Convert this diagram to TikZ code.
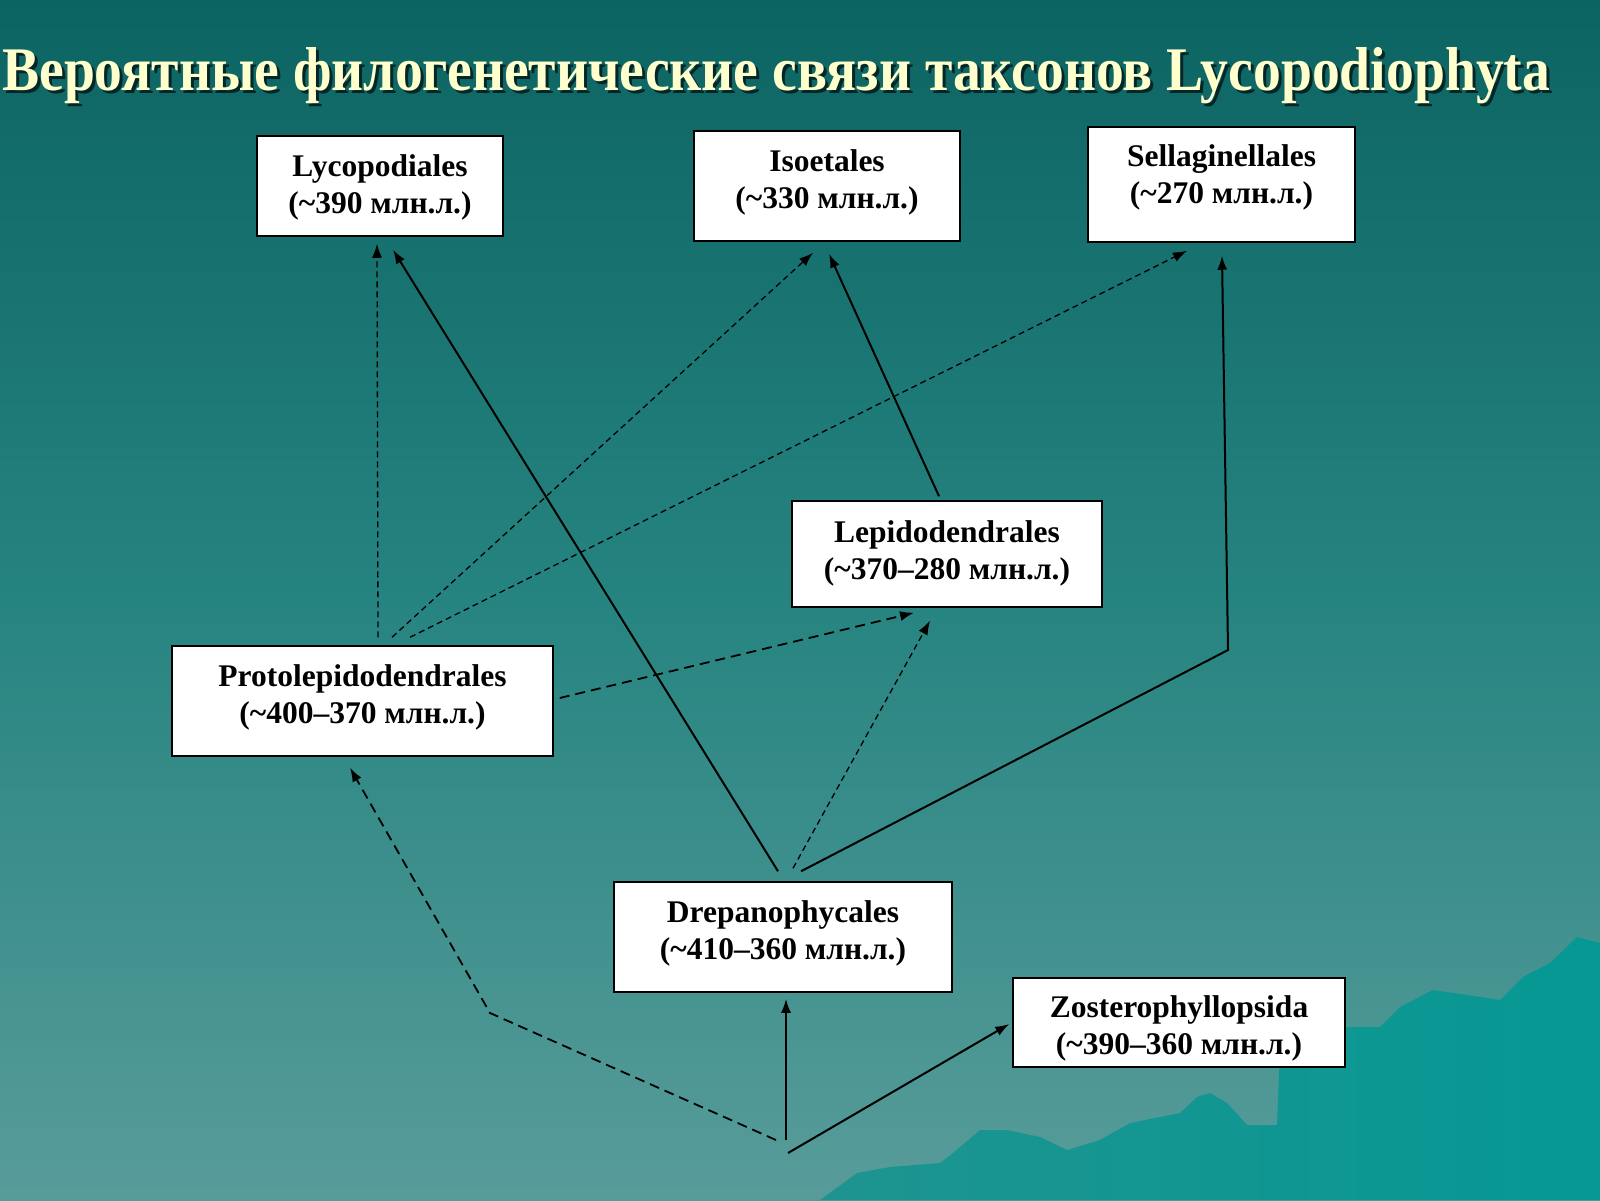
\documentclass[tikz,border=0pt]{standalone}
\usepackage{fontspec}
\usepackage{graphicx}
\setmainfont{Liberation Serif}
\usetikzlibrary{arrows.meta,calc}
\definecolor{bgtop}{RGB}{12,100,98}
\definecolor{bgmid}{RGB}{38,132,128}
\definecolor{bgbot}{RGB}{88,156,154}
\definecolor{mountl}{RGB}{30,148,144}
\definecolor{mountr}{RGB}{6,152,148}
\definecolor{titlecol}{RGB}{255,255,205}
\definecolor{shadowcol}{RGB}{5,38,38}
\newcommand\mytitletext{\resizebox{1548pt}{\height}{\fontsize{62}{62}\selectfont\bfseries Вероятные филогенетические связи таксонов Lycopodiophyta}}
\begin{document}
\begin{tikzpicture}[x=1pt,y=-1pt,
  box/.style={draw=black, line width=1.5pt, fill=white, inner sep=0pt},
  boxtext/.style={font=\fontsize{31.5}{37}\selectfont\bfseries, align=center, inner sep=0pt, text=black},
  solidarrow/.style={line width=2pt, -{Latex[length=14pt,width=10pt]}},
  dashthin/.style={line width=1.3pt, dash pattern=on 6pt off 4pt, -{Latex[length=14pt,width=10pt]}},
  dashthick/.style={line width=1.8pt, dash pattern=on 10pt off 6pt, -{Latex[length=14pt,width=10pt]}},
]
% background
\path[use as bounding box, top color=bgtop, bottom color=bgbot, middle color=bgmid] (0,0) rectangle (1600,1200);
% mountains
\path[left color=mountl, right color=mountr]
  (820,1200) -- (827,1195) -- (857,1173) -- (890,1167) -- (940,1163) -- (953,1153) -- (980,1130)
  -- (1007,1130) -- (1040,1137) -- (1067,1150) -- (1100,1140) -- (1130,1123) -- (1180,1113)
  -- (1197,1097) -- (1210,1093) -- (1227,1103) -- (1247,1125) -- (1277,1125) -- (1280,1050)
  -- (1347,1027) -- (1380,1027) -- (1400,1007) -- (1433,990) -- (1467,995) -- (1500,1000)
  -- (1523,977) -- (1550,963) -- (1577,937) -- (1600,943) -- (1600,1200) -- cycle;
% title
\node[anchor=base west, inner sep=0pt, text=shadowcol] at (5,93) {\mytitletext};
\node[anchor=base west, inner sep=0pt, text=titlecol] (title) at (2,90) {\mytitletext};
% boxes
\node[box, minimum width=246pt, minimum height=100pt] (lyc) at (380,186) {};
\node[boxtext] at (380,187) {Lycopodiales\\(\textasciitilde390 млн.л.)};
\node[box, minimum width=266pt, minimum height=110pt] (iso) at (827,186) {};
\node[boxtext] at (827,182) {Isoetales\\(\textasciitilde330 млн.л.)};
\node[box, minimum width=267pt, minimum height=115pt] (sel) at (1221.5,184.5) {};
\node[boxtext] at (1221.5,177) {Sellaginellales\\(\textasciitilde270 млн.л.)};
\node[box, minimum width=310pt, minimum height=106pt] (lep) at (947,554) {};
\node[boxtext] at (947,553) {Lepidodendrales\\(\textasciitilde370–280 млн.л.)};
\node[box, minimum width=381pt, minimum height=110pt] (pro) at (362.5,701) {};
\node[boxtext] at (362.5,697) {Protolepidodendrales\\(\textasciitilde400–370 млн.л.)};
\node[box, minimum width=338pt, minimum height=110pt] (dre) at (783,937) {};
\node[boxtext] at (783,933) {Drepanophycales\\(\textasciitilde410–360 млн.л.)};
\node[box, minimum width=332pt, minimum height=89pt] (zos) at (1179,1022.5) {};
\node[boxtext] at (1179,1028) {Zosterophyllopsida\\(\textasciitilde390–360 млн.л.)};
% free points
\coordinate (rootA) at (776,1140);
\coordinate (rootB) at (786,1140);
\coordinate (rootC) at (788,1153);
\coordinate (bendS) at (1228,650);
\coordinate (bendP) at (490,1013);
% solid arrows
\draw[solidarrow] ([shift={(-5,-10)}]dre.north) -- ([shift={(13,13)}]lyc.south);
\draw[solidarrow] ([shift={(-8,-4)}]lep.north) -- ([shift={(2,12)}]iso.south);
\draw[solidarrow] ([shift={(18,-10)}]dre.north) -- (bendS) -- ([shift={(0.5,13)}]sel.south);
\draw[solidarrow] (rootB) -- ([shift={(3,6)}]dre.south);
\draw[solidarrow] (rootC) -- ([shift={(-3,1.5)}]zos.west);
% dashed arrows
\draw[dashthin] ([shift={(15.5,-8)}]pro.north) -- ([shift={(-3,7)}]lyc.south);
\draw[dashthin] ([shift={(29.5,-8)}]pro.north) -- ([shift={(-14,11)}]iso.south);
\draw[dashthin] ([shift={(47.5,-8)}]pro.north) -- ([shift={(-34.5,8)}]sel.south);
\draw[dashthick] ([shift={(6,-3)}]pro.east) -- ([shift={(-33,5)}]lep.south);
\draw[dashthin] ([shift={(10,-13)}]dre.north) -- ([shift={(-17,13)}]lep.south);
\draw[dashthick] (rootA) -- (bendP) -- ([shift={(-12.5,11)}]pro.south);
\end{tikzpicture}
\end{document}
